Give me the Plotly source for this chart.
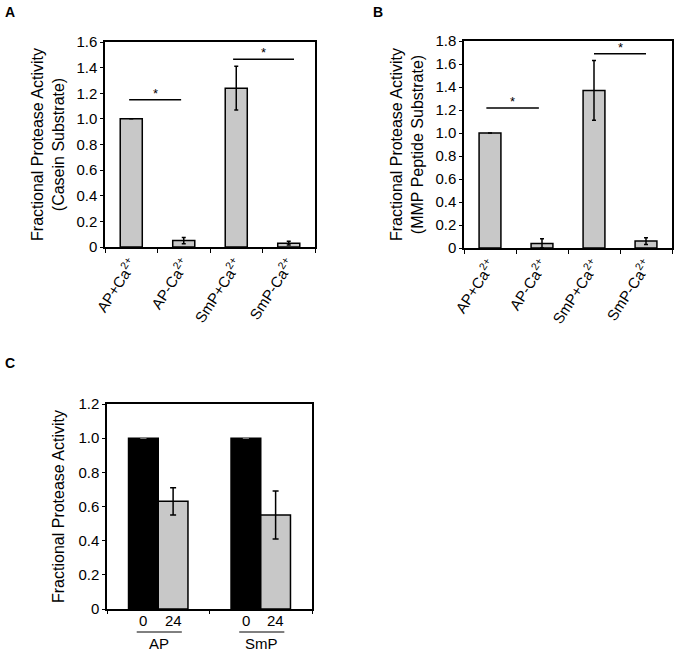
import plotly.graph_objects as go

# ---------------- data ----------------
cats_ab = ["AP+Ca<sup>2+</sup>", "AP-Ca<sup>2+</sup>", "SmP+Ca<sup>2+</sup>", "SmP-Ca<sup>2+</sup>"]

a_values = [1.0, 0.05, 1.24, 0.03]
a_errors = [0.0, 0.025, 0.17, 0.015]

b_values = [1.0, 0.04, 1.37, 0.06]
b_errors = [0.0, 0.04, 0.26, 0.03]

c_groups = ["AP", "SmP"]
c_time0_values = [1.0, 1.0]
c_time0_errors = [0.0, 0.0]
c_time24_values = [0.63, 0.55]
c_time24_errors = [0.08, 0.14]
c_time_labels = ["0", "24"]

a_ticks = [0, 0.2, 0.4, 0.6, 0.8, 1.0, 1.2, 1.4, 1.6]
a_ticktext = ["0", "0.2", "0.4", "0.6", "0.8", "1.0", "1.2", "1.4", "1.6"]
b_ticks = [0, 0.2, 0.4, 0.6, 0.8, 1.0, 1.2, 1.4, 1.6, 1.8]
b_ticktext = ["0", "0.2", "0.4", "0.6", "0.8", "1.0", "1.2", "1.4", "1.6", "1.8"]
c_ticks = [0, 0.2, 0.4, 0.6, 0.8, 1.0, 1.2]
c_ticktext = ["0", "0.2", "0.4", "0.6", "0.8", "1.0", "1.2"]

# significance brackets: (x start index, x end index, y level)
a_sig = [(-0.04, 0.95, 1.15), (1.94, 3.1, 1.465)]
b_sig = [(-0.07, 0.94, 1.217), (2.0, 3.0, 1.69)]

# ---------------- figure ----------------
W, H = 679, 654
FONT = "Liberation Sans, Arial, sans-serif"
GRAY = "#c8c8c8"
TICK_SIZE = 15
TITLE_SIZE = 16


def px_x(p):
    return p / W


def px_y(p):
    return 1 - p / H


fig = go.Figure()

fig.add_trace(go.Bar(
    x=cats_ab, y=a_values, xaxis="x", yaxis="y",
    marker=dict(color=GRAY, line=dict(color="black", width=1.5)),
    error_y=dict(type="data", array=a_errors, color="black", thickness=1.5, width=2),
    showlegend=False,
))
fig.add_trace(go.Bar(
    x=cats_ab, y=b_values, xaxis="x2", yaxis="y2",
    marker=dict(color=GRAY, line=dict(color="black", width=1.5)),
    error_y=dict(type="data", array=b_errors, color="black", thickness=1.5, width=2),
    showlegend=False,
))
c_bar_w = 0.29
fig.add_trace(go.Bar(
    x=c_groups, y=c_time0_values, xaxis="x3", yaxis="y3",
    marker=dict(color="black", line=dict(color="black", width=1.5)),
    error_y=dict(type="data", array=c_time0_errors, color="#888888", thickness=1, width=3),
    showlegend=False, width=c_bar_w, offset=-c_bar_w,
))
fig.add_trace(go.Bar(
    x=c_groups, y=c_time24_values, xaxis="x3", yaxis="y3",
    marker=dict(color=GRAY, line=dict(color="black", width=1.5)),
    error_y=dict(type="data", array=c_time24_errors, color="black", thickness=1.5, width=3),
    showlegend=False, width=c_bar_w, offset=0,
))

axis_common = dict(
    showline=True, linecolor="black", linewidth=1.5, mirror=True,
    showgrid=False, zeroline=False, automargin=False,
    ticks="outside", ticklen=3, tickcolor="black", tickwidth=1,
    tickfont=dict(family=FONT, size=TICK_SIZE, color="black"),
)


def ax(**kw):
    d = dict(axis_common)
    d.update(kw)
    return d


fig.update_layout(
    template="none",
    width=W, height=H,
    margin=dict(l=0, r=0, t=0, b=0, autoexpand=False),
    paper_bgcolor="white", plot_bgcolor="white",
    font=dict(family=FONT, size=TICK_SIZE, color="black"),
    bargap=0.58,
    barmode="overlay",
    xaxis=ax(domain=[px_x(105), px_x(315)], anchor="y",
             type="category", tickson="boundaries", tickangle=-57, ticklen=4),
    yaxis=ax(domain=[px_y(247), px_y(42)], anchor="x",
             range=[0, 1.6], tickvals=a_ticks, ticktext=a_ticktext,
             title=dict(text="Fractional Protease Activity<br>(Casein Substrate)",
                        font=dict(family=FONT, size=TITLE_SIZE), standoff=8)),
    xaxis2=ax(domain=[px_x(464), px_x(672)], anchor="y2",
              type="category", tickson="boundaries", tickangle=-57, ticklen=4),
    yaxis2=ax(domain=[px_y(248), px_y(41)], anchor="x2",
              range=[0, 1.8], tickvals=b_ticks, ticktext=b_ticktext,
              title=dict(text="Fractional Protease Activity<br>(MMP Peptide Substrate)",
                         font=dict(family=FONT, size=TITLE_SIZE), standoff=8)),
    xaxis3=ax(domain=[px_x(107), px_x(312)], anchor="y3",
              type="category", tickson="boundaries", showticklabels=False),
    yaxis3=ax(domain=[px_y(609), px_y(404)], anchor="x3",
              range=[0, 1.2], tickvals=c_ticks, ticktext=c_ticktext,
              title=dict(text="Fractional Protease Activity",
                         font=dict(family=FONT, size=TITLE_SIZE), standoff=10)),
)

annotations = []
shapes = []

# significance brackets
for (xr, yr, sig) in (("x", "y", a_sig), ("x2", "y2", b_sig)):
    for x0, x1, yv in sig:
        shapes.append(dict(type="line", xref=xr, yref=yr, x0=x0, x1=x1, y0=yv, y1=yv,
                           line=dict(color="black", width=1.5)))
        annotations.append(dict(xref=xr, yref=yr, x=(x0 + x1) / 2, y=yv, text="*",
                                showarrow=False, yanchor="bottom", yshift=-3,
                                font=dict(family=FONT, size=13, color="black")))

# panel C group labels
for i, g in enumerate(c_groups):
    annotations.append(dict(xref="x3", yref="paper", x=i - c_bar_w / 2, y=px_y(620),
                            text=c_time_labels[0], showarrow=False, yanchor="middle",
                            font=dict(family=FONT, size=TICK_SIZE, color="black")))
    annotations.append(dict(xref="x3", yref="paper", x=i + c_bar_w / 2, y=px_y(620),
                            text=c_time_labels[1], showarrow=False, yanchor="middle",
                            font=dict(family=FONT, size=TICK_SIZE, color="black")))
    shapes.append(dict(type="line", xref="x3", yref="paper", x0=i - 0.21, x1=i + 0.23,
                       y0=px_y(632), y1=px_y(632), line=dict(color="black", width=1)))
    annotations.append(dict(xref="x3", yref="paper", x=i + 0.01, y=px_y(643),
                            text=g, showarrow=False, yanchor="middle",
                            font=dict(family=FONT, size=TICK_SIZE, color="black")))

# panel letters
for letter, xp, yp in (("A", 10, 12), ("B", 378, 12), ("C", 10, 363)):
    annotations.append(dict(xref="paper", yref="paper", x=px_x(xp), y=px_y(yp),
                            text="<b>%s</b>" % letter, showarrow=False,
                            xanchor="center", yanchor="middle",
                            font=dict(family=FONT, size=14, color="black")))

fig.update_layout(annotations=annotations, shapes=shapes)

fig.write_html(
    "out.html",
    config={"displayModeBar": False},
    post_script="document.body.style.margin='0';document.body.style.overflow='hidden';",
)
